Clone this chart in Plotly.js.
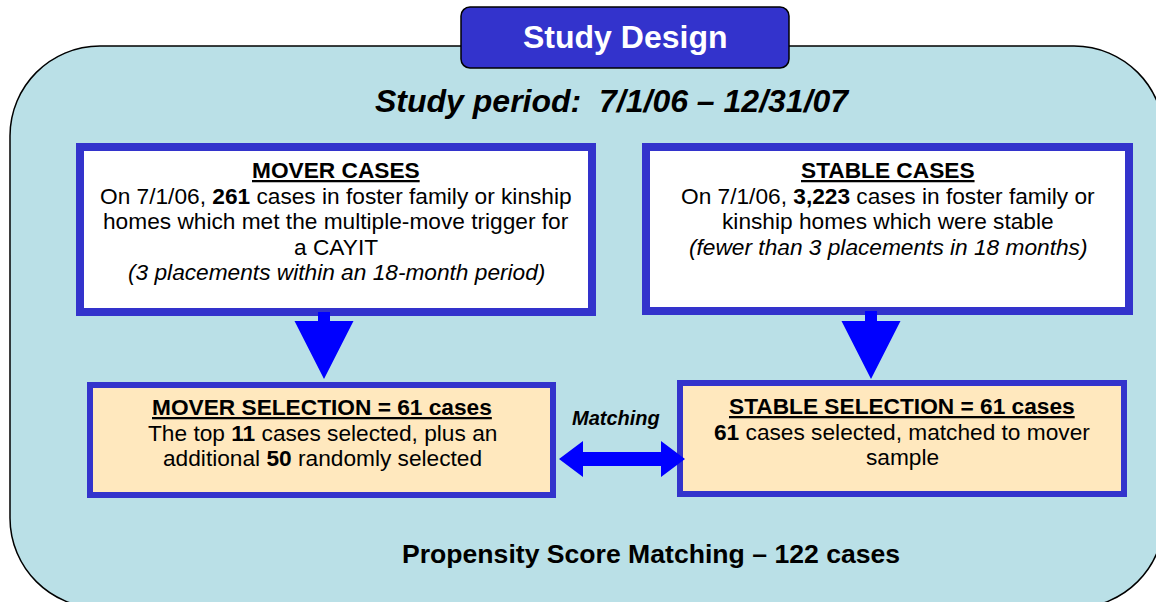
<!DOCTYPE html>
<html>
<head>
<meta charset="utf-8">
<script src="https://cdn.plot.ly/plotly-3.0.1.min.js"></script>
<style>html,body{margin:0;padding:0;background:#fff;}#chart{width:1156px;height:602px;}</style>
</head>
<body>
<div id="chart"></div>
<script>
// ---- Content (text of the diagram) ----
const headerTitle = "Study Design";
const studyPeriod = "Study period:&nbsp;&nbsp;7/1/06 – 12/31/07";
const moverCasesLines = [
  "<b><u>MOVER CASES</u></b>",
  "On 7/1/06, <b>261</b> cases in foster family or kinship",
  "homes which met the multiple-move trigger for",
  "a CAYIT",
  "<i>(3 placements within an 18-month period)</i>"
];
const stableCasesLines = [
  "<b><u>STABLE CASES</u></b>",
  "On 7/1/06, <b>3,223</b> cases in foster family or",
  "kinship homes which were stable",
  "<i>(fewer than 3 placements in 18 months)</i>"
];
const moverSelectionLines = [
  "<b><u>MOVER SELECTION = 61 cases</u></b>",
  "The top <b>11</b> cases selected, plus an",
  "additional <b>50</b> randomly selected"
];
const stableSelectionLines = [
  "<b><u>STABLE SELECTION = 61 cases</u></b>",
  "<b>61</b> cases selected, matched to mover",
  "sample"
];
const matchingLabel = "<b><i>Matching</i></b>";
const footerText = "<b>Propensity Score Matching – 122 cases</b>";

// ---- Geometry / style (pixel coordinates on a 1156x602 canvas) ----
const FONT = "Liberation Sans, Arial, Helvetica, sans-serif";
const C_BORDER = "#3333CC", C_ARROW = "#0000FF", C_BG = "#BAE0E7", C_PEACH = "#FFE8BE";

function rr(x0, y0, x1, y1, r) {
  const k = 0.5523 * r;
  return `M${x0 + r},${y0} L${x1 - r},${y0} C${x1 - r + k},${y0} ${x1},${y0 + r - k} ${x1},${y0 + r} ` +
         `L${x1},${y1 - r} C${x1},${y1 - r + k} ${x1 - r + k},${y1} ${x1 - r},${y1} ` +
         `L${x0 + r},${y1} C${x0 + r - k},${y1} ${x0},${y1 - r + k} ${x0},${y1 - r} ` +
         `L${x0},${y0 + r} C${x0},${y0 + r - k} ${x0 + r - k},${y0} ${x0 + r},${y0} Z`;
}
function downArrow(cx, yTop, yHead, yTip, shaftHalf, headHalf) {
  return `M${cx - shaftHalf},${yTop} L${cx + shaftHalf},${yTop} L${cx + shaftHalf},${yHead} ` +
         `L${cx + headHalf},${yHead} L${cx},${yTip} L${cx - headHalf},${yHead} L${cx - shaftHalf},${yHead} Z`;
}
function doubleArrow(xl, xr, cy, headLen, headHalf, shaftHalf) {
  return `M${xl},${cy} L${xl + headLen},${cy - headHalf} L${xl + headLen},${cy - shaftHalf} ` +
         `L${xr - headLen},${cy - shaftHalf} L${xr - headLen},${cy - headHalf} L${xr},${cy} ` +
         `L${xr - headLen},${cy + headHalf} L${xr - headLen},${cy + shaftHalf} L${xl + headLen},${cy + shaftHalf} ` +
         `L${xl + headLen},${cy + headHalf} Z`;
}

const shapes = [
  {type: "path", path: rr(10, 46, 1164, 608, 90), fillcolor: C_BG, line: {color: "#000", width: 1.5}, layer: "below"},
  {type: "path", path: rr(461, 7, 789, 68, 9), fillcolor: C_BORDER, line: {color: "#000", width: 1.5}},
  {type: "rect", x0: 80, x1: 592, y0: 147, y1: 312, fillcolor: "#FFFFFF", line: {color: C_BORDER, width: 8}},
  {type: "rect", x0: 646, x1: 1129, y0: 147, y1: 311, fillcolor: "#FFFFFF", line: {color: C_BORDER, width: 8}},
  {type: "path", path: downArrow(324, 312, 321, 379, 6, 29.5), fillcolor: C_ARROW, line: {width: 0}},
  {type: "path", path: downArrow(871, 311, 321, 379, 6, 29.5), fillcolor: C_ARROW, line: {width: 0}},
  {type: "rect", x0: 90, x1: 553, y0: 385, y1: 495, fillcolor: C_PEACH, line: {color: C_BORDER, width: 6}},
  {type: "rect", x0: 680, x1: 1124, y0: 383, y1: 494, fillcolor: C_PEACH, line: {color: C_BORDER, width: 6}},
  {type: "path", path: doubleArrow(559, 685, 459, 24, 18, 7), fillcolor: C_ARROW, line: {width: 0}}
];

const annotations = [];
function addText(text, x, y, size, color) {
  annotations.push({text: text, x: x, y: y, xref: "x", yref: "y", showarrow: false,
    xanchor: "center", yanchor: "middle", align: "center",
    font: {family: FONT, size: size, color: color || "#000"}});
}
function addLines(lines, cx, y0, dy, size) {
  lines.forEach((t, i) => addText(t, cx, y0 + i * dy, size));
}
addText("<b>" + headerTitle + "</b>", 625, 37, 32, "#FFFFFF");
addText("<b><i>" + studyPeriod + "</i></b>", 612, 101, 32);
addLines(moverCasesLines, 336, 170, 25.5, 22.7);
addLines(stableCasesLines, 888, 170, 25.5, 22.7);
addLines(moverSelectionLines, 322, 407, 25.5, 22.7);
addLines(stableSelectionLines, 902, 406, 25.5, 22.7);
addText(matchingLabel, 616, 418, 20);
addText(footerText, 651, 554, 26.6);

const layout = {
  width: 1156, height: 602,
  margin: {l: 0, r: 0, t: 0, b: 0},
  paper_bgcolor: "#FFFFFF", plot_bgcolor: "rgba(0,0,0,0)",
  xaxis: {range: [0, 1156], visible: false, fixedrange: true},
  yaxis: {range: [602, 0], visible: false, fixedrange: true},
  shapes: shapes, annotations: annotations, showlegend: false
};
Plotly.newPlot("chart", [], layout, {displayModeBar: false, staticPlot: true});
</script>
</body>
</html>
